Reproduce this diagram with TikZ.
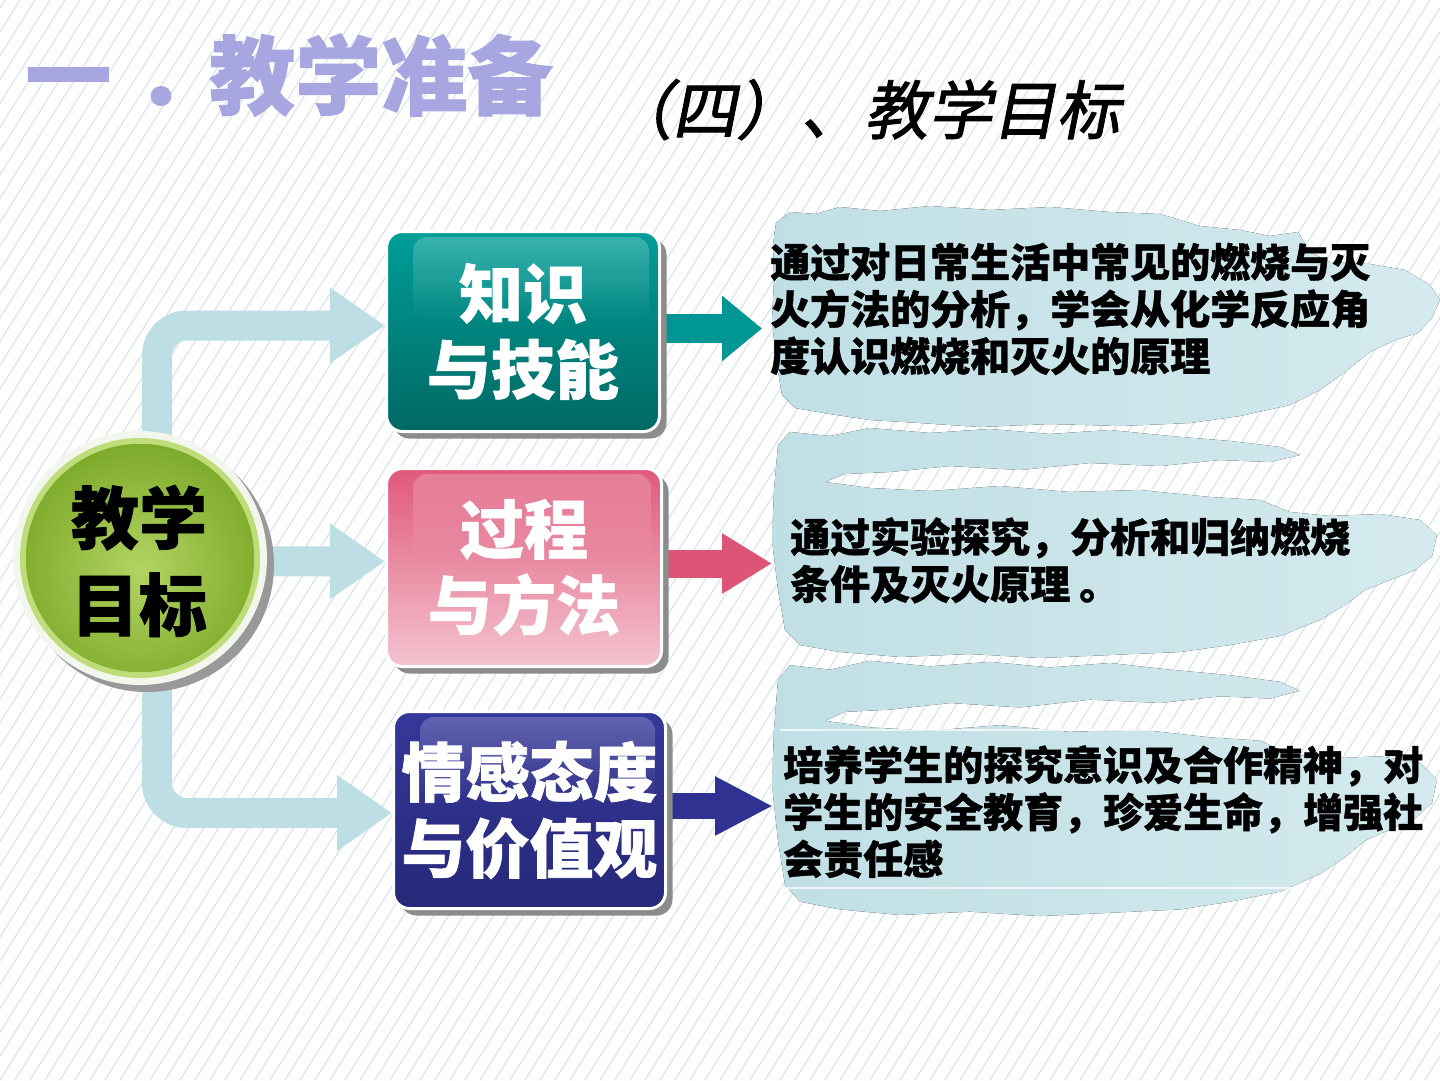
\documentclass[tikz,border=0pt]{standalone}
\usepackage{fontspec}
\setmainfont{Noto Sans CJK SC}
\newfontfamily\cjkslant{Noto Sans CJK SC}[FakeSlant=0.2, FakeBold=1.5]
\newfontfamily\heavy{Noto Sans CJK SC}[FakeBold=1]
\usetikzlibrary{arrows.meta,shadows,fadings,calc}
\pgfdeclarelayer{bg}
\pgfdeclarelayer{mid}
\pgfsetlayers{bg,mid,main}
\definecolor{stripe}{RGB}{210,222,230}
\definecolor{blobL}{RGB}{192,223,229}
\definecolor{blobR}{RGB}{212,234,238}
\definecolor{connc}{RGB}{188,222,228}
\definecolor{tealA}{RGB}{0,158,152}
\definecolor{tealB}{RGB}{0,104,100}
\definecolor{tealc}{RGB}{0,150,148}
\definecolor{pinkA}{RGB}{224,88,122}
\definecolor{pinkB}{RGB}{244,196,208}
\definecolor{pinkc}{RGB}{222,84,118}
\definecolor{navyA}{RGB}{54,56,154}
\definecolor{navyB}{RGB}{38,40,120}
\definecolor{navyc}{RGB}{48,50,146}
\definecolor{titlec}{RGB}{168,166,224}
\definecolor{greenD}{RGB}{120,166,36}
\definecolor{greenL}{RGB}{178,212,98}
\definecolor{greenR}{RGB}{190,220,122}
\definecolor{rim}{RGB}{242,246,236}
\tikzset{
  connector/.style={draw=connc, line width=30pt, -{Triangle[length=55pt,width=72pt]}},
  boxnode/.style={rounded corners=16pt, draw=white, line width=3pt, text=white,
    align=center, font=\heavy\bfseries\fontsize{64}{76}\selectfont,
    drop shadow={shadow xshift=7pt, shadow yshift=-7pt, fill=black!45, opacity=1}},
  blobtext/.style={anchor=north west, inner sep=0pt, align=left,
    font=\heavy\bfseries\fontsize{40}{47}\selectfont},
  blobfill/.style={left color=blobL, right color=blobR}
}
\def\blobinlet{(778,15) -- (790,2) -- (830,6) -- (870,-2) -- (930,3) -- (990,-1) -- (1050,4) -- (1110,0) -- (1170,6) -- (1230,11) -- (1280,17) -- (1300,25) -- (1270,32) -- (1220,30) -- (1160,36) -- (1090,33) -- (1020,40) -- (950,36) -- (890,42) -- (845,44) -- (825,52) -- (870,58) -- (930,61) -- (1000,56) -- (1070,62) -- (1140,60) -- (1210,67) -- (1260,70) -- (1290,82) -- (1330,86) -- (1380,84) -- (1420,90) -- (1437,105) -- (1432,126) -- (1415,140) -- (1390,150) -- (1365,160) -- (1345,175) -- (1320,190) -- (1280,206) -- (1230,215) -- (1180,222) -- (1110,225) -- (1040,228) -- (970,224) -- (900,227) -- (840,222) -- (800,215) -- (785,200) -- (778,160) -- (772,110) -- (774,60) -- cycle}
\begin{document}
\begin{tikzpicture}[x=1pt,y=-1pt]
\useasboundingbox (0,0) rectangle (1440,1080);
% ---------- background ----------
\begin{pgfonlayer}{bg}
  \fill[white] (0,0) rectangle (1440,1080);
  \begin{scope}
    \clip (0,0) rectangle (1440,1080);
    \foreach \i in {-50,...,96} \draw[stripe, line width=0.9pt] ({\i*15},1080) -- ({\i*15+680},0);
  \end{scope}
  % blob 1
  \fill[blobfill] (776,223) -- (790,212) -- (815,214) -- (840,207) -- (880,211) -- (930,206) -- (990,210) -- (1050,207) -- (1110,212) -- (1160,214) -- (1200,226) -- (1240,230) -- (1270,236) -- (1298,232) -- (1310,252) -- (1330,262) -- (1370,264) -- (1405,270) -- (1430,285) -- (1440,300) -- (1432,318) -- (1418,333) -- (1395,340) -- (1370,352) -- (1345,372) -- (1320,390) -- (1290,405) -- (1240,416) -- (1190,423) -- (1120,426) -- (1050,424) -- (980,427) -- (920,423) -- (870,420) -- (830,414) -- (795,408) -- (782,395) -- (776,360) -- (772,320) -- (774,280) -- (773,245) -- cycle;
  % blob 2
  \begin{scope}[shift={(0,430)}]
    \fill[blobfill] \blobinlet;
  \end{scope}
  % blob 3
  \begin{scope}[shift={(0,663)}, yscale=1.11]
    \fill[blobfill] \blobinlet;
  \end{scope}
  \draw[white, line width=1.5pt, opacity=.7] (780,730) -- (1400,730);
  \draw[white, line width=1.5pt, opacity=.7] (780,888) -- (1396,888);
\end{pgfonlayer}
% ---------- titles ----------
\node[anchor=base west, inner sep=0pt, text=titlec, font=\heavy\bfseries\fontsize{86}{86}\selectfont] (title) at (25,108) {一\hspace{24pt}．\hspace{-12pt}教学准备};
\node[anchor=base west, inner sep=0pt, font=\cjkslant\fontsize{64}{64}\selectfont] (sub) at (608,134) {（四）、教学目标};
% ---------- centre circle ----------
\fill[black!40] (147,565) circle[radius=127pt];
\fill[rim] (140,558) circle[radius=127pt];
\fill[greenR] (140,558) circle[radius=120pt];
\fill[greenD] (140,558) circle[radius=114pt];
\begin{scope}
  \clip (140,558) circle[radius=114pt];
  \shade[inner color=greenL, outer color=greenD] (140,570) circle[radius=140pt];
\end{scope}
\node[circle, minimum size=254pt, inner sep=0pt, align=center, font=\heavy\bfseries\fontsize{68}{87}\selectfont] (c) at (139,561) {教学\\目标};
% ---------- boxes ----------
\node[boxnode, top color=tealA, bottom color=tealB, minimum width=273pt, minimum height=200pt] (b1) at (523,331.5) {知识\\与技能};
\node[boxnode, top color=pinkA, bottom color=pinkB, minimum width=275pt, minimum height=198pt] (b2) at (524,567.5) {过程\\与方法};
\node[boxnode, top color=navyA, bottom color=navyB, minimum width=272pt, minimum height=197pt] (b3) at (529.5,810) {情感态度\\与价值观};
\foreach \b in {b1,b2,b3}
  \fill[white, path fading=south, fill opacity=0.22, rounded corners=14pt] ([shift={(28pt,-7pt)}]\b.north west) rectangle ([shift={(-12pt,-92pt)}]\b.north east);
% ---------- texts in blobs ----------
\node[blobtext] (t1) at (770,241) {\rule{0pt}{36pt}通过对日常生活中常见的燃烧与灭\\火方法的分析，学会从化学反应角\\度认识燃烧和灭火的原理};
\node[blobtext] (t2) at (790,516) {\rule{0pt}{36pt}通过实验探究，分析和归纳燃烧\\条件及灭火原理 。};
\node[blobtext] (t3) at (783,744) {\rule{0pt}{36pt}培养学生的探究意识及合作精神，对\\学生的安全教育，珍爱生命，增强社\\会责任感};
% ---------- connectors ----------
\begin{pgfonlayer}{mid}
  \draw[connector, rounded corners=30pt] ($(c.center)+(18,0)$) |- ($(b1.west)+(0,-6)$);
  \draw[connector] (c.center) -- ($(b2.west)+(0,-6)$);
  \draw[connector, rounded corners=30pt] ($(c.center)+(18,0)$) |- ($(b3.west)+(0,3)$);
  \draw[draw=tealc, line width=29pt, -{Triangle[length=40pt,width=63pt]}] ($(b1.east)+(-10,-3)$) -- ($(b1.east -| t1.west)+(-8,-3)$);
  \draw[draw=pinkc, line width=28pt, -{Triangle[length=50pt,width=57pt]}] ($(b2.east)+(-10,-4)$) -- ($(b2.east -| t2.west)+(-18,-4)$);
  \draw[draw=navyc, line width=26pt, -{Triangle[length=58pt,width=55pt]}] ($(b3.east)+(-10,-4)$) -- ($(b3.east -| t3.west)+(-10,-4)$);
\end{pgfonlayer}
\end{tikzpicture}
\end{document}
